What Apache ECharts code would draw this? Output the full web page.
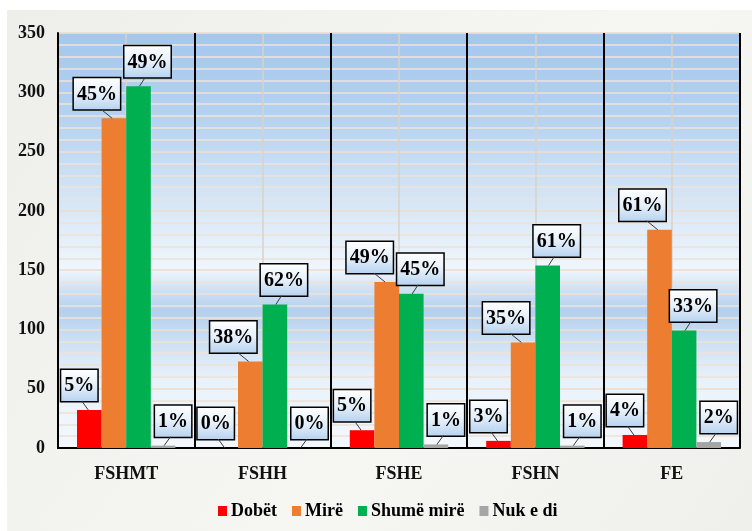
<!DOCTYPE html>
<html>
<head>
<meta charset="utf-8">
<script src="https://cdn.jsdelivr.net/npm/echarts@6/dist/echarts.min.js"></script>
<style>
  html, body { margin: 0; padding: 0; background: #fff; }
  #chart { width: 752px; height: 531px; }
</style>
</head>
<body>
<div id="chart"></div>
<script>
// categories and values
var categories = ['FSHMT', 'FSHH', 'FSHE', 'FSHN', 'FE']
var dobet = [32, 0, 15, 6, 11]
var mire = [278, 73, 140, 89, 184]
var shumeMire = [305, 121, 130, 154, 99]
var nukEDi = [2, 0, 3, 2, 5]
// percentage labels as printed on the boxes
var pctDobet = ['5%', '0%', '5%', '3%', '4%']
var pctMire = ['45%', '38%', '49%', '35%', '61%']
var pctShume = ['49%', '62%', '45%', '61%', '33%']
var pctNuk = ['1%', '0%', '1%', '1%', '2%']
var yTicks = [0, 350, 50]

var FONT = '"Liberation Serif", "Times New Roman", serif'
var BAR_W = 24.6
var barOffsets = [-1.5 * BAR_W, -0.5 * BAR_W, 0.5 * BAR_W, 1.5 * BAR_W]
var labelDx = [-10, -17, 9, 10]
var LABEL_GAP = 9

var chart = echarts.init(document.getElementById('chart'))

function boxLabel(texts) {
  return {
    show: true,
    position: 'top',
    distance: LABEL_GAP,
    formatter: function (p) { return texts[p.dataIndex] },
    fontFamily: FONT,
    fontWeight: 'bold',
    fontSize: 20,
    lineHeight: 22,
    color: '#000',
    padding: [5, 3, 4, 3],
    borderColor: '#000',
    borderWidth: 1.5,
    backgroundColor: new echarts.graphic.LinearGradient(0, 0, 0, 1, [
      { offset: 0, color: '#ffffff' },
      { offset: 0.5, color: '#e6f0fa' },
      { offset: 1, color: '#b4d1ef' }
    ])
  }
}

function makeSeries(name, data, texts, color, k) {
  return {
    name: name,
    type: 'bar',
    barWidth: BAR_W,
    barGap: '0%',
    itemStyle: { color: color },
    label: boxLabel(texts),
    labelLayout: { dx: labelDx[k] },
    data: data
  }
}

// leader lines from each bar top to its label box
var allValues = [dobet, mire, shumeMire, nukEDi]
var leaderData = []
allValues.forEach(function (arr, s) {
  arr.forEach(function (v, i) { leaderData.push([i, v, s]) })
})

chart.setOption({
  animation: false,
  graphic: [{
    type: 'rect',
    z: -10,
    shape: { x: 7, y: 10, width: 745, height: 521 },
    style: {
      fill: new echarts.graphic.LinearGradient(0, 0, 1, 1, [
        { offset: 0, color: '#eeeeea' },
        { offset: 0.6, color: '#f6f6f3' },
        { offset: 1, color: '#efefeb' }
      ])
    }
  }],
  grid: {
    left: 58, right: 12, top: 33, bottom: 83,
    show: true,
    borderWidth: 0,
    backgroundColor: new echarts.graphic.LinearGradient(0, 0, 0, 1, [
      { offset: 0, color: '#a4c7ee' },
      { offset: 0.2, color: '#b5d2f0' },
      { offset: 0.42, color: '#d8e7f6' },
      { offset: 0.57, color: '#f0f6fc' },
      { offset: 0.62, color: '#cfe0f3' },
      { offset: 0.67, color: '#b4d0ee' },
      { offset: 0.73, color: '#c9ddf2' },
      { offset: 0.83, color: '#e8f1fa' },
      { offset: 1, color: '#f3f8fd' }
    ])
  },
  legend: {
    data: ['Dobët', 'Mirë', 'Shumë mirë', 'Nuk e di'],
    bottom: 6,
    left: 213,
    icon: 'rect',
    itemWidth: 9,
    itemHeight: 10,
    itemGap: 15,
    textStyle: { fontFamily: FONT, fontWeight: 'bold', fontSize: 18, color: '#000', padding: [0, 0, 0, -1] }
  },
  xAxis: [{
    type: 'category',
    data: categories,
    z: 1,
    axisLine: { lineStyle: { color: '#000', width: 2 } },
    axisTick: { show: false },
    splitLine: { show: true, lineStyle: { color: '#000', width: 2 } },
    axisLabel: { margin: 17, fontFamily: FONT, fontWeight: 'bold', fontSize: 18, color: '#111' }
  }, {
    // thin lines through the middle of each group
    type: 'category',
    data: ['', '', '', '', '', '', '', '', '', ''],
    position: 'bottom',
    axisLine: { show: false },
    axisTick: { show: false },
    axisLabel: { show: false },
    splitLine: {
      show: true,
      interval: function (index) { return index % 2 === 1 },
      lineStyle: { color: '#d8d2ca', width: 1.5 }
    }
  }],
  yAxis: {
    type: 'value',
    min: yTicks[0],
    max: yTicks[1],
    interval: yTicks[2],
    axisLine: { show: true, lineStyle: { color: '#000', width: 2 } },
    axisTick: { show: false },
    axisLabel: { margin: 13, fontFamily: FONT, fontWeight: 'bold', fontSize: 18, color: '#111' },
    splitLine: { show: true, lineStyle: { color: 'rgba(236,222,208,0.85)', width: 2 } },
    minorTick: { show: false, splitNumber: 5 },
    minorSplitLine: { show: true, lineStyle: { color: 'rgba(236,226,216,0.8)', width: 2 } }
  },
  series: [
    makeSeries('Dobët', dobet, pctDobet, '#ff0000', 0),
    makeSeries('Mirë', mire, pctMire, '#ed7d31', 1),
    makeSeries('Shumë mirë', shumeMire, pctShume, '#00b050', 2),
    makeSeries('Nuk e di', nukEDi, pctNuk, '#a5a5a5', 3),
    {
      type: 'custom',
      name: 'leaders',
      z: 3,
      silent: true,
      data: leaderData,
      encode: { x: 0, y: 1 },
      renderItem: function (params, api) {
        var s = api.value(2)
        var p = api.coord([api.value(0), api.value(1)])
        var x = p[0] + barOffsets[s]
        var dx = labelDx[s]
        return {
          type: 'line',
          shape: { x1: x + dx * 0.1, y1: p[1], x2: x + dx * 0.75, y2: p[1] - LABEL_GAP },
          style: { stroke: '#3a3a3a', lineWidth: 1 }
        }
      }
    }
  ]
})
</script>
</body>
</html>
